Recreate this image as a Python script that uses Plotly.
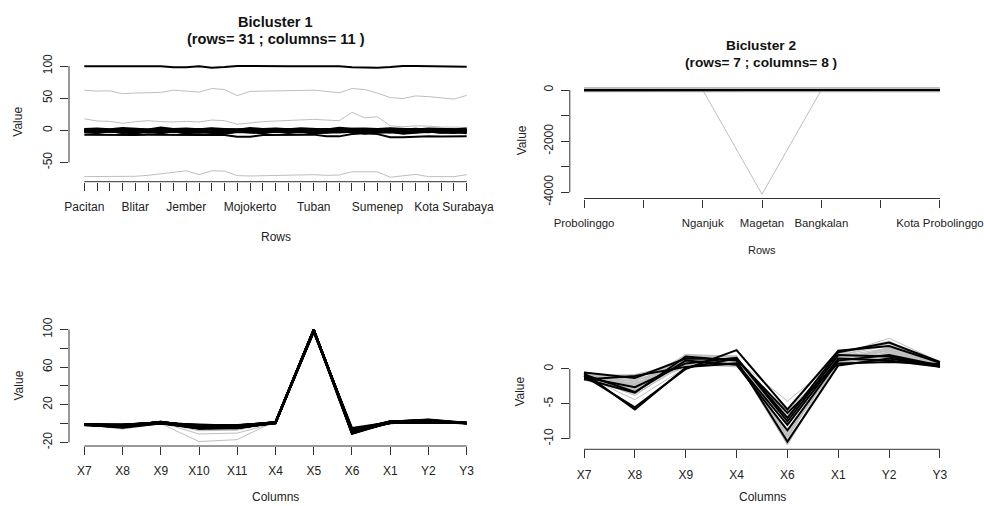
import numpy as np
import plotly.graph_objects as go

# ---------------- data ----------------
rows_bc1 = ["Pacitan", "Ponorogo", "Trenggalek", "Tulungagung", "Blitar", "Kediri", "Malang",
            "Lumajang", "Jember", "Banyuwangi", "Bondowoso", "Situbondo", "Pasuruan", "Mojokerto",
            "Jombang", "Madiun", "Ngawi", "Bojonegoro", "Tuban", "Lamongan", "Gresik", "Sampang",
            "Pamekasan", "Sumenep", "Kota Kediri", "Kota Blitar", "Kota Pasuruan", "Kota Mojokerto",
            "Kota Madiun", "Kota Surabaya", "Kota Batu"]
rows_bc1_shown = ["Pacitan", "Blitar", "Jember", "Mojokerto", "Tuban", "Sumenep", "Kota Surabaya"]
rows_bc2 = ["Probolinggo", "Sidoarjo", "Nganjuk", "Magetan", "Bangkalan", "Kota Malang", "Kota Probolinggo"]
rows_bc2_shown = ["Probolinggo", "Nganjuk", "Magetan", "Bangkalan", "Kota Probolinggo"]

cols_bc1 = ["X7", "X8", "X9", "X10", "X11", "X4", "X5", "X6", "X1", "Y2", "Y3"]
cols_bc2 = ["X7", "X8", "X9", "X4", "X6", "X1", "Y2", "Y3"]
cols_other = ["X2", "X3", "X12", "Y1"]

# values of the bicluster-1 rows (31) per column
bc1_X7 = [-1.2, -0.8, -1.0, -1.4, -0.9, -1.1, -0.6, -1.3, -1.0, -0.7, -1.5, -0.9, -1.2, -0.5, -1.0, -1.3,
          -0.8, -1.1, -1.4, -0.6, -1.0, -1.2, -0.4, -0.9, -1.6, -1.1, -0.7, -1.3, -1.0, -0.8, -1.2]
bc1_X8 = [-2.1, -3.0, -1.5, -2.8, -0.9, -3.6, -2.4, -1.8, -4.4, -2.2, -1.2, -3.1, -2.7, -1.6, -3.8, -2.0,
          -2.9, -1.4, -2.5, -3.3, -0.8, -2.3, -1.9, -2.6, -3.5, -1.7, -2.2, -3.0, -1.1, -2.4, -2.8]
bc1_X9 = [0.8, 1.5, 0.3, 1.9, 1.1, 0.6, 2.1, 1.3, 0.2, 1.7, 0.9, 1.4, 0.5, 1.8, 1.0, 0.4,
          1.6, 1.2, 0.7, 2.0, 0.9, 1.3, 0.1, 1.5, 1.1, 0.6, 1.8, 0.8, 1.4, 1.0, 0.5]
bc1_X10 = [-2.5, -4.0, -1.8, -3.2, -5.0, -2.2, -3.8, -1.5, -4.4, -2.8, -3.5, -5.2, -2.0, -3.0, -4.2, -1.2,
           -3.6, -2.6, -4.8, -3.3, -1.9, -2.9, -4.6, -3.1, -2.4, -5.5, -3.9, -2.1, -3.4, -4.1, -2.7]
bc1_X11 = [-2.8, -3.5, -1.6, -4.2, -3.0, -2.4, -4.6, -2.0, -3.3, -3.9, -1.8, -4.8, -2.6, -3.1, -4.0, -2.2,
           -3.7, -1.4, -4.4, -2.9, -3.4, -2.1, -5.0, -3.6, -2.5, -4.3, -3.2, -1.9, -3.8, -2.7, -4.5]
bc1_X4 = [0.6, 1.2, 0.9, 1.6, 0.4, 1.0, 1.8, 0.7, 1.3, 0.5, 1.5, 1.1, 0.8, 1.9, 0.6, 1.2,
          1.4, 0.9, 0.3, 1.7, 1.0, 0.8, 1.3, 0.5, 1.6, 1.1, 0.7, 1.4, 0.9, 1.2, 0.6]
bc1_X5 = [99.5, 99.5, 99.5, 99.5, 99.5, 99.5, 99.5, 98.0, 98.0, 99.5, 97.5, 98.5, 100.0, 100.0, 99.5, 99.5,
          99.5, 99.5, 99.5, 99.5, 99.5, 98.0, 97.5, 97.5, 98.5, 100.0, 100.0, 100.0, 100.0, 99.0, 99.0]
bc1_X6 = [-7.0, -7.3, -7.1, -7.4, -7.2, -6.9, -7.2, -7.5, -7.1, -7.3, -7.0, -7.4, -9.8, -10.0, -7.2, -6.8,
          -6.6, -6.9, -6.7, -9.2, -9.4, -5.8, -4.6, -5.9, -10.8, -10.9, -9.6, -9.4, -9.5, -9.7, -9.3]
bc1_X1 = [1.0, 1.8, 0.6, 2.3, 1.4, 0.8, 2.0, 1.2, 0.5, 1.6, 2.4, 0.9, 1.3, 1.9, 0.7, 1.5,
          2.1, 1.1, 0.6, 1.7, 2.2, 1.0, 1.4, 0.8, 1.9, 1.2, 2.5, 0.9, 1.6, 1.3, 0.7]
bc1_Y2 = [2.2, 3.0, 1.5, 3.6, 2.6, 1.2, 4.4, 2.0, 2.8, 1.8, 3.3, 2.4, 1.0, 3.8, 2.1, 2.9,
          1.6, 3.1, 2.5, 1.4, 4.0, 2.3, 2.7, 1.9, 3.4, 2.0, 1.1, 3.0, 2.6, 1.7, 2.8]
bc1_Y3 = [0.5, 0.8, 0.3, 0.9, 0.6, 0.4, 1.0, 0.7, 0.5, 0.8, 0.3, 0.6, 0.9, 0.4, 0.7, 0.5,
          0.8, 0.6, 0.3, 1.0, 0.5, 0.7, 0.4, 0.9, 0.6, 0.8, 0.3, 0.7, 0.5, 0.9, 0.6]
bc1_X2 = [62.5, 61.0, 61.5, 57.0, 58.0, 58.0, 59.0, 62.5, 61.0, 59.5, 65.0, 63.5, 54.0, 60.5, 61.0, 61.0,
          61.5, 62.0, 62.5, 60.0, 58.5, 65.0, 63.5, 58.0, 51.0, 49.5, 53.5, 52.5, 51.0, 48.5, 54.5]
bc1_X3 = [18.0, 14.5, 14.0, 11.0, 13.5, 15.0, 13.5, 13.0, 14.0, 13.0, 16.0, 15.0, 9.5, 12.0, 13.5, 14.5,
          15.5, 17.0, 17.0, 16.0, 15.0, 28.0, 19.5, 21.0, 7.0, 5.5, 7.0, 6.5, 5.0, 5.0, 4.5]
bc1_X12 = [-72.0, -72.0, -72.0, -72.0, -71.5, -70.0, -67.5, -65.0, -63.0, -69.0, -63.0, -63.5, -70.5, -71.0,
           -70.5, -70.5, -70.0, -68.5, -69.0, -70.0, -69.5, -64.5, -64.0, -64.5, -73.0, -70.5, -68.5,
           -72.0, -72.0, -72.0, -69.0]
bc1_Y1 = [2.0, 3.0, 1.5, 2.5, 3.5, 2.0, 1.0, 2.5, 3.0, 2.0, 1.5, 3.0, 2.5, 2.0, 1.0, 3.5,
          2.5, 2.0, 3.0, 1.5, 2.0, 4.0, 3.0, 2.5, 1.5, 1.0, 2.0, 1.5, 2.5, 2.0, 3.0]

# values of the bicluster-2 rows (7) per column
bc2_X7 = [-0.6, -1.0, -1.4, -0.8, -1.2, -0.5, -1.5]
bc2_X8 = [-5.8, -5.5, -3.4, -3.3, -2.6, -1.3, -1.0]
bc2_X9 = [0.2, 0.0, 1.8, 1.2, 0.8, 1.5, 0.3]
bc2_X4 = [1.5, 2.7, 1.2, 0.6, 1.6, 1.4, 0.8]
bc2_X6 = [-7.0, -5.8, -10.4, -8.8, -7.5, -6.3, -8.0]
bc2_X1 = [2.4, 2.6, 0.5, 1.2, 2.0, 0.8, 1.5]
bc2_Y2 = [3.8, 3.3, 1.5, 2.0, 1.8, 1.0, 1.2]
bc2_Y3 = [1.0, 0.9, 0.4, 0.5, 0.3, 0.7, 0.3]
bc2_X10 = [-4.0, -19.0, -2.5, -11.0, -7.5, -3.0, -2.0]
bc2_X11 = [-3.5, -17.0, -2.0, -10.0, -7.0, -2.5, -1.5]
bc2_X5 = [98.5, 99.0, 97.5, 99.0, 98.5, 99.5, 98.0]
bc2_X2 = [58.0, 61.0, 56.0, 52.0, 60.0, 55.0, 57.0]
bc2_X3 = [12.0, 16.0, 10.0, 8.0, 14.0, 11.0, 13.0]
bc2_X12 = [-70.0, -68.0, -72.0, -66.0, -71.0, -69.0, -73.0]
bc2_Y1 = [2.5, 1.5, 3.0, -4075.0, 2.0, 1.0, 2.5]

# axis ticks
tl_yticks = [-50, 0, 50, 100]
tl_ylabels = ["-50", "0", "50", "100"]
tr_yticks = [-4000, -3000, -2000, -1000, 0]
tr_ylabels = ["-4000", "", "-2000", "", "0"]
bl_yticks = [-20, 0, 20, 40, 60, 80, 100]
bl_ylabels = ["-20", "", "20", "", "60", "", "100"]
br_yticks = [-10, -5, 0]
br_ylabels = ["-10", "-5", "0"]

# ---------------- build ----------------
g = globals()
bc1 = {c: np.array(g["bc1_" + c]) for c in cols_bc1 + cols_other}
bc2 = {c: np.array(g["bc2_" + c]) for c in cols_bc1 + cols_other}

FONT = "Liberation Sans, Arial, Helvetica, sans-serif"
BLACK = "#000000"
GREY = "#bebebe"
W, H = 984, 506


def fx(px):
    return px / W


def fy(py):
    return 1 - py / H


fig = go.Figure()


def add_lines(xs, ys_list, color, width, ax):
    for ys in ys_list:
        fig.add_trace(go.Scatter(x=xs, y=ys, mode="lines", line=dict(color=color, width=width),
                                 xaxis="x" + ax, yaxis="y" + ax, showlegend=False, hoverinfo="skip"))


# panel 1: rows of bicluster 1, lines = columns
x1 = np.arange(1, len(rows_bc1) + 1)
add_lines(x1, [bc1[c] for c in cols_other], GREY, 1, "")
add_lines(x1, [bc1[c] for c in cols_bc1], BLACK, 2, "")
# panel 2: rows of bicluster 2, lines = columns
x2 = np.arange(1, len(rows_bc2) + 1)
add_lines(x2, [bc2[c] for c in cols_other + ["X10", "X11", "X5"]], GREY, 1, "2")
add_lines(x2, [bc2[c] for c in cols_bc2], BLACK, 2, "2")
# panel 3: columns of bicluster 1, lines = rows
x3 = np.arange(1, len(cols_bc1) + 1)
m1 = np.array([bc1[c] for c in cols_bc1]).T
m1o = np.array([bc2[c] for c in cols_bc1]).T
add_lines(x3, list(m1o), GREY, 1, "3")
add_lines(x3, list(m1), BLACK, 2, "3")
# panel 4: columns of bicluster 2, lines = rows
x4 = np.arange(1, len(cols_bc2) + 1)
m2 = np.array([bc2[c] for c in cols_bc2]).T
m2o = np.array([bc1[c] for c in cols_bc2]).T
add_lines(x4, list(m2o), GREY, 1, "4")
add_lines(x4, list(m2), BLACK, 2, "4")


def yr(arrs):
    v = np.concatenate([np.ravel(a) for a in arrs])
    lo, hi = v.min(), v.max()
    d = hi - lo
    return [lo - 0.04 * d, hi + 0.04 * d]


def xr(n):
    return [1 - 0.04 * (n - 1), n + 0.04 * (n - 1)]


boxes = {  # left, right, top, bottom in page pixels
    "": (69, 482, 61.6, 181.7),
    "2": (569.8, 954.2, 83.2, 198.5),
    "3": (69, 482, 325, 446),
    "4": (569.8, 954.2, 334, 449.3),
}
yranges = {
    "": yr([bc1[c] for c in cols_bc1 + cols_other]),
    "2": yr([bc2[c] for c in cols_bc1 + cols_other]),
    "3": yr([m1, m1o]),
    "4": yr([m2, m2o]),
}
xinfo = {
    "": (x1, [r if r in rows_bc1_shown else "" for r in rows_bc1]),
    "2": (x2, [r if r in rows_bc2_shown else "" for r in rows_bc2]),
    "3": (x3, cols_bc1),
    "4": (x4, cols_bc2),
}
yinfo = {"": (tl_yticks, tl_ylabels), "2": (tr_yticks, tr_ylabels),
         "3": (bl_yticks, bl_ylabels), "4": (br_yticks, br_ylabels)}
xfont = {"": 12, "2": 11.4, "3": 12, "4": 12}

layout = dict(template="none", width=W, height=H, margin=dict(l=0, r=0, t=0, b=0, pad=0),
              paper_bgcolor="white", plot_bgcolor="white", showlegend=False,
              font=dict(family=FONT, size=12, color="#222"))
shapes = []
for ax, (l, r, t, b) in boxes.items():
    xs, xt = xinfo[ax]
    yv, yt = yinfo[ax]
    layout["xaxis" + ax] = dict(domain=[fx(l), fx(r)], range=xr(len(xs)), anchor="y" + ax,
                                automargin=False, tickvals=list(xs), ticktext=xt, ticks="outside",
                                ticklen=8, tickcolor="#333", tickangle=0, showline=False, showgrid=False,
                                zeroline=False, ticklabelstandoff=6, ticklabeloverflow="allow",
                                tickfont=dict(size=xfont[ax], color="#222"))
    layout["yaxis" + ax] = dict(domain=[fy(b), fy(t)], range=yranges[ax], anchor="x" + ax,
                                automargin=False, tickvals=yv, ticktext=yt, ticks="outside", ticklen=8,
                                tickcolor="#333", tickangle=-90, showline=False, showgrid=False,
                                zeroline=False, ticklabelstandoff=3, ticklabeloverflow="allow",
                                tickfont=dict(size=12, color="#222"))
    shapes.append(dict(type="line", xref="x" + ax, yref="y" + ax + " domain", x0=xs[0], x1=xs[-1],
                       y0=0, y1=0, line=dict(color="#333", width=1)))
    shapes.append(dict(type="line", xref="x" + ax + " domain", yref="y" + ax, x0=0, x1=0,
                       y0=min(yv), y1=max(yv), line=dict(color="#333", width=1)))
layout["shapes"] = shapes


def ann(text, x, y, size=12, bold=False, angle=0):
    return dict(text="<b>%s</b>" % text if bold else text, x=fx(x), y=fy(y), xref="paper",
                yref="paper", showarrow=False, xanchor="center", yanchor="middle", textangle=angle,
                font=dict(family=FONT, size=size, color="#111" if bold else "#222"))


layout["annotations"] = [
    ann("Bicluster 1", 275.5, 22, 14.6, True),
    ann("(rows= 31 ; columns= 11 )", 275.5, 39, 14.6, True),
    ann("Bicluster 2", 761, 45, 13.7, True),
    ann("(rows= 7 ; columns= 8 )", 761, 63, 13.7, True),
    ann("Rows", 275.5, 237), ann("Rows", 762, 250, 11),
    ann("Columns", 275.5, 497), ann("Columns", 762, 497),
    ann("Value", 18, 121.7, angle=-90), ann("Value", 521.5, 140.8, angle=-90),
    ann("Value", 18, 385.5, angle=-90), ann("Value", 520, 391.6, angle=-90),
]
fig.update_layout(**layout)
fig.write_html("out.html", config={"displayModeBar": False, "staticPlot": True},
               post_script="document.body.style.margin='0px';")
